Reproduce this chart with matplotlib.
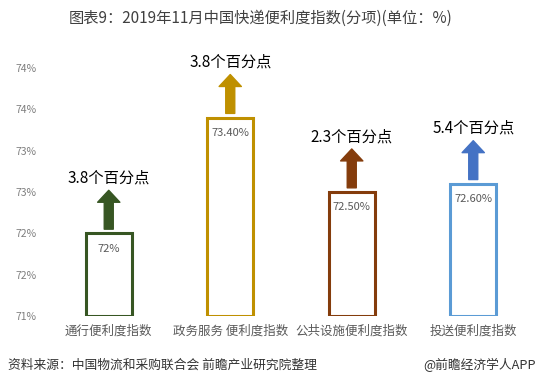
import matplotlib
matplotlib.use("Agg")
import matplotlib.pyplot as plt
from matplotlib.ticker import FuncFormatter

plt.rcParams['font.family'] = ['Noto Sans CJK SC', 'DejaVu Sans']

# data
categories = ['通行便利度指数', '政务服务 便利度指数', '公共设施便利度指数', '投送便利度指数']
values = [72.0, 73.4, 72.5, 72.6]
value_labels = ['72%', '73.40%', '72.50%', '72.60%']
changes = ['3.8个百分点', '3.8个百分点', '2.3个百分点', '5.4个百分点']
edge_colors = ['#375623', '#bf9000', '#843c0c', '#5b9bd5']
arrow_colors = ['#375623', '#bf9000', '#843c0c', '#4472c4']
yticks = [71, 71.5, 72, 72.5, 73, 73.5, 74]

fig = plt.figure(figsize=(5.37, 3.86), dpi=100)
ax = fig.add_axes([48 / 537, 70 / 386, 486 / 537, 297.7 / 386])

x = range(len(categories))
ax.bar(x, [v - 71 for v in values], bottom=71, width=0.38,
       facecolor='white', edgecolor=edge_colors, linewidth=2.2)

for i, v in enumerate(values):
    # value inside the bar
    ax.annotate(value_labels[i], (i, v), xytext=(0, -11), textcoords='offset points',
                ha='center', va='center', fontsize=8, color='#595959')
    # arrow above the bar
    ax.annotate('', xy=(i, v + 0.52), xytext=(i, v + 0.05),
                arrowprops=dict(arrowstyle='simple,head_length=0.86,head_width=1.6,tail_width=0.65',
                                mutation_scale=10, color=arrow_colors[i], shrinkA=0, shrinkB=0))
    ax.text(i, v + 0.67, changes[i], ha='center', va='center', fontsize=11, color='black')

ax.set_xlim(-0.5, 3.5)
ax.set_ylim(71, 74.6)
ax.set_yticks(yticks)
ax.yaxis.set_major_formatter(FuncFormatter(lambda y, p: '%d%%' % int(y + 0.5)))
ax.set_xticks(list(x))
ax.set_xticklabels(categories, fontsize=9, color='#595959')
ax.tick_params(axis='y', length=0, pad=8, labelsize=7.5, labelcolor='#7f7f7f')
ax.tick_params(axis='x', length=0, pad=6)
for s in ax.spines.values():
    s.set_visible(False)

fig.text(261 / 537, 1 - 18 / 386, '图表9：2019年11月中国快递便利度指数(分项)(单位：%)',
         ha='center', va='center', fontsize=11, color='#404040')
fig.text(8 / 537, 1 - 365 / 386, '资料来源：中国物流和采购联合会 前瞻产业研究院整理',
         ha='left', va='center', fontsize=9.2, color='#333333')
fig.text(536 / 537, 1 - 365 / 386, '@前瞻经济学人APP',
         ha='right', va='center', fontsize=9.2, color='#333333')

fig.savefig('out.png', dpi=100)
